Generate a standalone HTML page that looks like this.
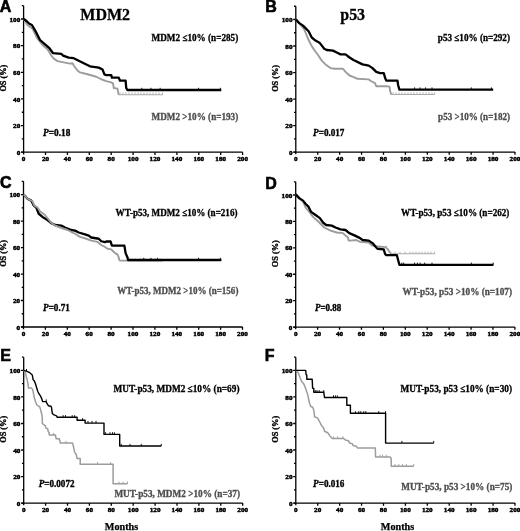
<!DOCTYPE html>
<html><head><meta charset="utf-8"><style>
html,body{margin:0;padding:0;background:#fff;}
body{color:#000;width:520px;height:531px;overflow:hidden;}
svg{display:block;filter:blur(0.4px);}
.tk{font-family:"Liberation Serif", serif;font-weight:bold;font-size:6.7px;fill:#000;stroke:#000;stroke-width:0.45px;}
.os{font-family:"Liberation Serif", serif;font-weight:bold;font-size:8.3px;fill:#000;stroke:#000;stroke-width:0.35px;}
.pl{font-family:"Liberation Sans", sans-serif;font-weight:bold;font-size:16px;fill:#000;stroke:#000;stroke-width:0.6px;}
.ti{font-family:"Liberation Serif", serif;font-weight:bold;font-size:17.6px;fill:#000;stroke:#000;stroke-width:0.3px;}
.lg{font-family:"Liberation Serif", serif;font-weight:bold;font-size:9.8px;fill:#000;stroke:currentColor;stroke-width:0.3px;}
.pv{font-family:"Liberation Serif", serif;font-weight:bold;font-size:10px;fill:#000;stroke:#000;stroke-width:0.35px;}
.mo{font-family:"Liberation Serif", serif;font-weight:bold;font-size:10.2px;fill:#000;stroke:#000;stroke-width:0.25px;}
</style></head><body>
<svg width="520" height="531" viewBox="0 0 520 531">
<rect width="520" height="531" fill="#fff"/>
<path d="M23.60 154.40V5.68M21.40 152.20H242.60" stroke="#000" stroke-width="1.3" fill="none"/>
<path d="M23.60 152.20h-2.6M23.60 138.88h-1.8M23.60 125.56h-2.6M23.60 112.24h-1.8M23.60 98.92h-2.6M23.60 85.60h-1.8M23.60 72.28h-2.6M23.60 58.96h-1.8M23.60 45.64h-2.6M23.60 32.32h-1.8M23.60 19.00h-2.6M23.60 5.68h-1.8M45.50 152.20v2.7M67.40 152.20v2.7M89.30 152.20v2.7M111.20 152.20v2.7M133.10 152.20v2.7M155.00 152.20v2.7M176.90 152.20v2.7M198.80 152.20v2.7M220.70 152.20v2.7M242.60 152.20v2.7" stroke="#000" stroke-width="1.3" fill="none"/>
<text x="20.30" y="154.80" text-anchor="end" class="tk" textLength="3.60" lengthAdjust="spacingAndGlyphs">0</text>
<text x="20.30" y="128.16" text-anchor="end" class="tk" textLength="7.20" lengthAdjust="spacingAndGlyphs">20</text>
<text x="20.30" y="101.52" text-anchor="end" class="tk" textLength="7.20" lengthAdjust="spacingAndGlyphs">40</text>
<text x="20.30" y="74.88" text-anchor="end" class="tk" textLength="7.20" lengthAdjust="spacingAndGlyphs">60</text>
<text x="20.30" y="48.24" text-anchor="end" class="tk" textLength="7.20" lengthAdjust="spacingAndGlyphs">80</text>
<text x="20.30" y="21.60" text-anchor="end" class="tk" textLength="10.80" lengthAdjust="spacingAndGlyphs">100</text>
<text x="23.60" y="161.10" text-anchor="middle" class="tk" textLength="3.60" lengthAdjust="spacingAndGlyphs">0</text>
<text x="45.50" y="161.10" text-anchor="middle" class="tk" textLength="7.20" lengthAdjust="spacingAndGlyphs">20</text>
<text x="67.40" y="161.10" text-anchor="middle" class="tk" textLength="7.20" lengthAdjust="spacingAndGlyphs">40</text>
<text x="89.30" y="161.10" text-anchor="middle" class="tk" textLength="7.20" lengthAdjust="spacingAndGlyphs">60</text>
<text x="111.20" y="161.10" text-anchor="middle" class="tk" textLength="7.20" lengthAdjust="spacingAndGlyphs">80</text>
<text x="133.10" y="161.10" text-anchor="middle" class="tk" textLength="10.80" lengthAdjust="spacingAndGlyphs">100</text>
<text x="155.00" y="161.10" text-anchor="middle" class="tk" textLength="10.80" lengthAdjust="spacingAndGlyphs">120</text>
<text x="176.90" y="161.10" text-anchor="middle" class="tk" textLength="10.80" lengthAdjust="spacingAndGlyphs">140</text>
<text x="198.80" y="161.10" text-anchor="middle" class="tk" textLength="10.80" lengthAdjust="spacingAndGlyphs">160</text>
<text x="220.70" y="161.10" text-anchor="middle" class="tk" textLength="10.80" lengthAdjust="spacingAndGlyphs">180</text>
<text x="242.60" y="161.10" text-anchor="middle" class="tk" textLength="10.80" lengthAdjust="spacingAndGlyphs">200</text>
<text transform="translate(6.10 78.14) rotate(-90)" text-anchor="middle" class="os">OS (%)</text>
<path d="M23.75 18.90 L27.50 25.00 L32.50 28.75 L37.50 38.75 L42.50 45.00 L47.50 49.25 L51.25 55.50 L53.75 58.60 L57.50 61.10 L63.75 62.40 L70.00 63.60 L72.50 63.30 L73.75 65.50 L77.50 70.50 L80.00 72.40 L87.50 74.25 L96.25 76.75 L101.25 79.25 L106.25 81.10 L111.25 82.40 L113.10 83.60 L113.75 88.00 L117.50 88.60 L118.10 91.75 L118.75 94.70" stroke="#9c9c9c" stroke-width="1.9" fill="none" stroke-linejoin="round"/>
<path d="M118.25 94.70H163.00" stroke="#aaaaaa" stroke-width="1.1" fill="none"/>
<path d="M120.00 94.70v-2.2M123.00 94.70v-2.2M126.00 94.70v-2.2M129.00 94.70v-2.2M132.00 94.70v-2.2M135.00 94.70v-2.2M138.00 94.70v-2.2M141.00 94.70v-2.2M144.00 94.70v-2.2M147.00 94.70v-2.2M150.00 94.70v-2.2M153.00 94.70v-2.2M156.00 94.70v-2.2M159.00 94.70v-2.2M162.50 94.70v-2.2" stroke="#aaaaaa" stroke-width="0.9" fill="none"/>
<path d="M23.75 18.90 L26.50 21.00 L29.40 23.75 L31.90 25.00 L34.00 28.50 L36.25 32.50 L40.00 40.00 L45.00 44.40 L49.40 48.20 L53.10 53.20 L61.25 53.80 L63.10 55.70 L68.75 57.60 L73.75 58.20 L78.75 60.70 L83.75 63.20 L90.00 66.30 L98.75 67.60 L102.50 69.45 L104.40 74.45 L106.25 75.10 L111.25 75.10 L111.90 77.60 L118.75 77.60 L120.00 80.70 L125.60 80.70 L126.25 88.20 L127.50 90.00 L221.30 90.00" stroke="#000" stroke-width="2.3" fill="none" stroke-linejoin="round"/>
<path d="M141.80 90.00v-2.2M151.00 90.00v-2.2M160.10 90.00v-2.2M198.50 90.00v-2.2M220.40 90.00v-2.2" stroke="#000" stroke-width="0.9" fill="none"/>
<path d="M295.80 154.30V6.24M293.60 152.10H515.00" stroke="#000" stroke-width="1.3" fill="none"/>
<path d="M295.80 152.10h-2.6M295.80 138.84h-1.8M295.80 125.58h-2.6M295.80 112.32h-1.8M295.80 99.06h-2.6M295.80 85.80h-1.8M295.80 72.54h-2.6M295.80 59.28h-1.8M295.80 46.02h-2.6M295.80 32.76h-1.8M295.80 19.50h-2.6M295.80 6.24h-1.8M317.72 152.10v2.7M339.64 152.10v2.7M361.56 152.10v2.7M383.48 152.10v2.7M405.40 152.10v2.7M427.32 152.10v2.7M449.24 152.10v2.7M471.16 152.10v2.7M493.08 152.10v2.7M515.00 152.10v2.7" stroke="#000" stroke-width="1.3" fill="none"/>
<text x="292.50" y="154.70" text-anchor="end" class="tk" textLength="3.60" lengthAdjust="spacingAndGlyphs">0</text>
<text x="292.50" y="128.18" text-anchor="end" class="tk" textLength="7.20" lengthAdjust="spacingAndGlyphs">20</text>
<text x="292.50" y="101.66" text-anchor="end" class="tk" textLength="7.20" lengthAdjust="spacingAndGlyphs">40</text>
<text x="292.50" y="75.14" text-anchor="end" class="tk" textLength="7.20" lengthAdjust="spacingAndGlyphs">60</text>
<text x="292.50" y="48.62" text-anchor="end" class="tk" textLength="7.20" lengthAdjust="spacingAndGlyphs">80</text>
<text x="292.50" y="22.10" text-anchor="end" class="tk" textLength="10.80" lengthAdjust="spacingAndGlyphs">100</text>
<text x="295.80" y="161.00" text-anchor="middle" class="tk" textLength="3.60" lengthAdjust="spacingAndGlyphs">0</text>
<text x="317.72" y="161.00" text-anchor="middle" class="tk" textLength="7.20" lengthAdjust="spacingAndGlyphs">20</text>
<text x="339.64" y="161.00" text-anchor="middle" class="tk" textLength="7.20" lengthAdjust="spacingAndGlyphs">40</text>
<text x="361.56" y="161.00" text-anchor="middle" class="tk" textLength="7.20" lengthAdjust="spacingAndGlyphs">60</text>
<text x="383.48" y="161.00" text-anchor="middle" class="tk" textLength="7.20" lengthAdjust="spacingAndGlyphs">80</text>
<text x="405.40" y="161.00" text-anchor="middle" class="tk" textLength="10.80" lengthAdjust="spacingAndGlyphs">100</text>
<text x="427.32" y="161.00" text-anchor="middle" class="tk" textLength="10.80" lengthAdjust="spacingAndGlyphs">120</text>
<text x="449.24" y="161.00" text-anchor="middle" class="tk" textLength="10.80" lengthAdjust="spacingAndGlyphs">140</text>
<text x="471.16" y="161.00" text-anchor="middle" class="tk" textLength="10.80" lengthAdjust="spacingAndGlyphs">160</text>
<text x="493.08" y="161.00" text-anchor="middle" class="tk" textLength="10.80" lengthAdjust="spacingAndGlyphs">180</text>
<text x="515.00" y="161.00" text-anchor="middle" class="tk" textLength="10.80" lengthAdjust="spacingAndGlyphs">200</text>
<text transform="translate(278.30 78.37) rotate(-90)" text-anchor="middle" class="os">OS (%)</text>
<path d="M295.75 19.40 L300.50 25.00 L304.25 29.40 L305.50 32.50 L308.00 38.75 L311.10 45.00 L314.25 50.00 L318.00 55.00 L321.75 60.60 L325.50 64.40 L330.50 68.10 L334.25 68.75 L343.00 68.75 L345.50 71.90 L349.50 75.50 L353.00 76.90 L357.50 78.75 L368.75 79.40 L371.25 81.25 L375.00 83.10 L376.25 86.25 L386.25 86.25 L389.50 86.60 L390.00 90.40 L391.20 94.50" stroke="#9c9c9c" stroke-width="1.9" fill="none" stroke-linejoin="round"/>
<path d="M390.70 94.50H434.70" stroke="#aaaaaa" stroke-width="1.1" fill="none"/>
<path d="M393.00 94.50v-2.2M396.00 94.50v-2.2M399.00 94.50v-2.2M402.00 94.50v-2.2M405.00 94.50v-2.2M408.00 94.50v-2.2M411.00 94.50v-2.2M414.00 94.50v-2.2M417.00 94.50v-2.2M420.00 94.50v-2.2M423.00 94.50v-2.2M426.00 94.50v-2.2M429.00 94.50v-2.2M432.00 94.50v-2.2M434.70 94.50v-2.2" stroke="#aaaaaa" stroke-width="0.9" fill="none"/>
<path d="M295.75 19.40 L299.25 23.10 L303.00 25.60 L305.50 28.10 L308.60 31.25 L311.75 37.50 L315.50 40.60 L319.90 43.10 L324.25 48.75 L326.75 50.00 L333.00 50.60 L336.75 52.50 L340.50 54.40 L345.50 54.40 L349.60 57.50 L353.50 60.00 L362.50 64.40 L368.75 65.60 L372.50 68.10 L376.25 71.90 L380.00 73.10 L383.75 73.10 L385.00 77.50 L386.25 80.60 L397.50 80.60 L398.10 85.00 L399.40 89.60 L493.20 89.60" stroke="#000" stroke-width="2.3" fill="none" stroke-linejoin="round"/>
<path d="M414.60 89.60v-2.2M420.10 89.60v-2.2M425.60 89.60v-2.2M432.00 89.60v-2.2M471.30 89.60v-2.2M491.40 89.60v-2.2" stroke="#000" stroke-width="0.9" fill="none"/>
<path d="M23.50 329.20V181.36M21.30 327.00H242.50" stroke="#000" stroke-width="1.3" fill="none"/>
<path d="M23.50 327.00h-2.6M23.50 313.76h-1.8M23.50 300.52h-2.6M23.50 287.28h-1.8M23.50 274.04h-2.6M23.50 260.80h-1.8M23.50 247.56h-2.6M23.50 234.32h-1.8M23.50 221.08h-2.6M23.50 207.84h-1.8M23.50 194.60h-2.6M23.50 181.36h-1.8M45.40 327.00v2.7M67.30 327.00v2.7M89.20 327.00v2.7M111.10 327.00v2.7M133.00 327.00v2.7M154.90 327.00v2.7M176.80 327.00v2.7M198.70 327.00v2.7M220.60 327.00v2.7M242.50 327.00v2.7" stroke="#000" stroke-width="1.3" fill="none"/>
<text x="20.20" y="329.60" text-anchor="end" class="tk" textLength="3.60" lengthAdjust="spacingAndGlyphs">0</text>
<text x="20.20" y="303.12" text-anchor="end" class="tk" textLength="7.20" lengthAdjust="spacingAndGlyphs">20</text>
<text x="20.20" y="276.64" text-anchor="end" class="tk" textLength="7.20" lengthAdjust="spacingAndGlyphs">40</text>
<text x="20.20" y="250.16" text-anchor="end" class="tk" textLength="7.20" lengthAdjust="spacingAndGlyphs">60</text>
<text x="20.20" y="223.68" text-anchor="end" class="tk" textLength="7.20" lengthAdjust="spacingAndGlyphs">80</text>
<text x="20.20" y="197.20" text-anchor="end" class="tk" textLength="10.80" lengthAdjust="spacingAndGlyphs">100</text>
<text x="23.50" y="335.90" text-anchor="middle" class="tk" textLength="3.60" lengthAdjust="spacingAndGlyphs">0</text>
<text x="45.40" y="335.90" text-anchor="middle" class="tk" textLength="7.20" lengthAdjust="spacingAndGlyphs">20</text>
<text x="67.30" y="335.90" text-anchor="middle" class="tk" textLength="7.20" lengthAdjust="spacingAndGlyphs">40</text>
<text x="89.20" y="335.90" text-anchor="middle" class="tk" textLength="7.20" lengthAdjust="spacingAndGlyphs">60</text>
<text x="111.10" y="335.90" text-anchor="middle" class="tk" textLength="7.20" lengthAdjust="spacingAndGlyphs">80</text>
<text x="133.00" y="335.90" text-anchor="middle" class="tk" textLength="10.80" lengthAdjust="spacingAndGlyphs">100</text>
<text x="154.90" y="335.90" text-anchor="middle" class="tk" textLength="10.80" lengthAdjust="spacingAndGlyphs">120</text>
<text x="176.80" y="335.90" text-anchor="middle" class="tk" textLength="10.80" lengthAdjust="spacingAndGlyphs">140</text>
<text x="198.70" y="335.90" text-anchor="middle" class="tk" textLength="10.80" lengthAdjust="spacingAndGlyphs">160</text>
<text x="220.60" y="335.90" text-anchor="middle" class="tk" textLength="10.80" lengthAdjust="spacingAndGlyphs">180</text>
<text x="242.50" y="335.90" text-anchor="middle" class="tk" textLength="10.80" lengthAdjust="spacingAndGlyphs">200</text>
<text transform="translate(6.00 253.39) rotate(-90)" text-anchor="middle" class="os">OS (%)</text>
<path d="M119.40 260.60H162.90" stroke="#9c9c9c" stroke-width="1.9" fill="none"/>
<path d="M130.00 260.60v-2.2M135.00 260.60v-2.2M140.00 260.60v-2.2M145.00 260.60v-2.2M150.00 260.60v-2.2M155.00 260.60v-2.2M160.00 260.60v-2.2" stroke="#9c9c9c" stroke-width="0.9" fill="none"/>
<path d="M23.75 194.40 L27.50 198.75 L31.25 200.60 L33.75 205.60 L36.25 207.50 L38.75 213.75 L42.50 216.90 L47.50 220.00 L51.25 223.10 L55.00 225.00 L61.25 225.60 L65.00 227.50 L71.25 230.00 L75.00 230.60 L78.75 232.50 L85.00 234.40 L88.75 235.60 L91.25 237.50 L98.75 238.75 L101.25 241.25 L105.00 242.20 L106.25 241.50 L110.60 241.50 L111.90 245.60 L124.40 245.60 L125.60 253.10 L127.50 257.50 L128.10 260.00 L221.40 260.00" stroke="#000" stroke-width="2.3" fill="none" stroke-linejoin="round"/>
<path d="M143.70 260.00v-2.2M151.00 260.00v-2.2M157.40 260.00v-2.2M198.50 260.00v-2.2M220.40 260.00v-2.2" stroke="#000" stroke-width="0.9" fill="none"/>
<path d="M23.75 194.40 L27.50 198.75 L32.50 201.25 L34.40 205.60 L37.50 207.50 L40.00 211.25 L45.00 215.00 L50.00 221.25 L53.75 225.00 L60.00 227.50 L67.50 230.00 L71.25 231.90 L75.00 233.75 L80.00 236.90 L86.25 238.75 L91.25 240.60 L97.50 241.90 L101.25 245.00 L105.00 246.90 L107.50 248.75 L111.25 249.40 L113.10 251.25 L115.00 253.10 L117.50 254.40 L118.75 257.50 L119.40 260.60" stroke="#9c9c9c" stroke-width="1.9" fill="none" stroke-linejoin="round"/>
<path d="M295.70 329.30V181.79M293.50 327.10H514.90" stroke="#000" stroke-width="1.3" fill="none"/>
<path d="M295.70 327.10h-2.6M295.70 313.89h-1.8M295.70 300.68h-2.6M295.70 287.47h-1.8M295.70 274.26h-2.6M295.70 261.05h-1.8M295.70 247.84h-2.6M295.70 234.63h-1.8M295.70 221.42h-2.6M295.70 208.21h-1.8M295.70 195.00h-2.6M295.70 181.79h-1.8M317.62 327.10v2.7M339.54 327.10v2.7M361.46 327.10v2.7M383.38 327.10v2.7M405.30 327.10v2.7M427.22 327.10v2.7M449.14 327.10v2.7M471.06 327.10v2.7M492.98 327.10v2.7M514.90 327.10v2.7" stroke="#000" stroke-width="1.3" fill="none"/>
<text x="292.40" y="329.70" text-anchor="end" class="tk" textLength="3.60" lengthAdjust="spacingAndGlyphs">0</text>
<text x="292.40" y="303.28" text-anchor="end" class="tk" textLength="7.20" lengthAdjust="spacingAndGlyphs">20</text>
<text x="292.40" y="276.86" text-anchor="end" class="tk" textLength="7.20" lengthAdjust="spacingAndGlyphs">40</text>
<text x="292.40" y="250.44" text-anchor="end" class="tk" textLength="7.20" lengthAdjust="spacingAndGlyphs">60</text>
<text x="292.40" y="224.02" text-anchor="end" class="tk" textLength="7.20" lengthAdjust="spacingAndGlyphs">80</text>
<text x="292.40" y="197.60" text-anchor="end" class="tk" textLength="10.80" lengthAdjust="spacingAndGlyphs">100</text>
<text x="295.70" y="336.00" text-anchor="middle" class="tk" textLength="3.60" lengthAdjust="spacingAndGlyphs">0</text>
<text x="317.62" y="336.00" text-anchor="middle" class="tk" textLength="7.20" lengthAdjust="spacingAndGlyphs">20</text>
<text x="339.54" y="336.00" text-anchor="middle" class="tk" textLength="7.20" lengthAdjust="spacingAndGlyphs">40</text>
<text x="361.46" y="336.00" text-anchor="middle" class="tk" textLength="7.20" lengthAdjust="spacingAndGlyphs">60</text>
<text x="383.38" y="336.00" text-anchor="middle" class="tk" textLength="7.20" lengthAdjust="spacingAndGlyphs">80</text>
<text x="405.30" y="336.00" text-anchor="middle" class="tk" textLength="10.80" lengthAdjust="spacingAndGlyphs">100</text>
<text x="427.22" y="336.00" text-anchor="middle" class="tk" textLength="10.80" lengthAdjust="spacingAndGlyphs">120</text>
<text x="449.14" y="336.00" text-anchor="middle" class="tk" textLength="10.80" lengthAdjust="spacingAndGlyphs">140</text>
<text x="471.06" y="336.00" text-anchor="middle" class="tk" textLength="10.80" lengthAdjust="spacingAndGlyphs">160</text>
<text x="492.98" y="336.00" text-anchor="middle" class="tk" textLength="10.80" lengthAdjust="spacingAndGlyphs">180</text>
<text x="514.90" y="336.00" text-anchor="middle" class="tk" textLength="10.80" lengthAdjust="spacingAndGlyphs">200</text>
<text transform="translate(278.20 253.65) rotate(-90)" text-anchor="middle" class="os">OS (%)</text>
<path d="M295.75 194.40 L299.25 198.75 L303.00 201.25 L305.50 207.50 L309.25 211.90 L313.00 216.90 L318.00 221.25 L321.75 225.00 L324.25 227.50 L330.50 230.60 L336.75 232.50 L343.00 233.10 L344.90 235.00 L348.00 237.50 L348.60 240.60 L350.00 240.60 L356.25 240.00 L360.00 241.90 L368.75 242.50 L372.00 245.50 L376.25 246.30 L385.60 247.10 L388.00 249.50 L389.50 252.00 L391.30 253.80" stroke="#9c9c9c" stroke-width="1.9" fill="none" stroke-linejoin="round"/>
<path d="M390.80 253.80H434.70" stroke="#aaaaaa" stroke-width="1.1" fill="none"/>
<path d="M386.25 247.75v-2.2M395.00 253.80v-2.2M400.00 253.80v-2.2M405.00 253.80v-2.2M410.00 253.80v-2.2M413.00 253.80v-2.2M416.00 253.80v-2.2M419.00 253.80v-2.2M422.00 253.80v-2.2M425.00 253.80v-2.2M428.00 253.80v-2.2M431.00 253.80v-2.2M434.70 253.80v-2.2" stroke="#aaaaaa" stroke-width="0.9" fill="none"/>
<path d="M295.75 194.40 L299.25 198.10 L303.00 200.60 L305.50 203.75 L308.60 206.90 L311.10 211.90 L315.50 215.00 L319.90 218.10 L323.00 222.50 L326.10 225.00 L331.75 225.60 L335.50 227.50 L340.50 229.40 L345.50 230.00 L349.25 233.10 L355.00 235.60 L360.00 238.10 L362.50 240.00 L368.75 240.60 L372.50 243.10 L376.25 247.50 L377.50 248.75 L383.75 249.40 L385.00 253.75 L386.25 255.20 L396.90 255.20 L398.10 260.00 L399.40 264.80 L493.40 264.80" stroke="#000" stroke-width="2.3" fill="none" stroke-linejoin="round"/>
<path d="M401.80 264.80v-2.2M403.70 264.80v-2.2M414.60 264.80v-2.2M417.40 264.80v-2.2M420.10 264.80v-2.2M424.70 264.80v-2.2M432.00 264.80v-2.2M471.30 264.80v-2.2M493.20 264.80v-2.2" stroke="#000" stroke-width="0.9" fill="none"/>
<path d="M23.70 505.30V357.13M21.50 503.10H242.70" stroke="#000" stroke-width="1.3" fill="none"/>
<path d="M23.70 503.10h-2.6M23.70 489.83h-1.8M23.70 476.56h-2.6M23.70 463.29h-1.8M23.70 450.02h-2.6M23.70 436.75h-1.8M23.70 423.48h-2.6M23.70 410.21h-1.8M23.70 396.94h-2.6M23.70 383.67h-1.8M23.70 370.40h-2.6M23.70 357.13h-1.8M45.60 503.10v2.7M67.50 503.10v2.7M89.40 503.10v2.7M111.30 503.10v2.7M133.20 503.10v2.7M155.10 503.10v2.7M177.00 503.10v2.7M198.90 503.10v2.7M220.80 503.10v2.7M242.70 503.10v2.7" stroke="#000" stroke-width="1.3" fill="none"/>
<text x="20.40" y="505.70" text-anchor="end" class="tk" textLength="3.60" lengthAdjust="spacingAndGlyphs">0</text>
<text x="20.40" y="479.16" text-anchor="end" class="tk" textLength="7.20" lengthAdjust="spacingAndGlyphs">20</text>
<text x="20.40" y="452.62" text-anchor="end" class="tk" textLength="7.20" lengthAdjust="spacingAndGlyphs">40</text>
<text x="20.40" y="426.08" text-anchor="end" class="tk" textLength="7.20" lengthAdjust="spacingAndGlyphs">60</text>
<text x="20.40" y="399.54" text-anchor="end" class="tk" textLength="7.20" lengthAdjust="spacingAndGlyphs">80</text>
<text x="20.40" y="373.00" text-anchor="end" class="tk" textLength="10.80" lengthAdjust="spacingAndGlyphs">100</text>
<text x="23.70" y="512.00" text-anchor="middle" class="tk" textLength="3.60" lengthAdjust="spacingAndGlyphs">0</text>
<text x="45.60" y="512.00" text-anchor="middle" class="tk" textLength="7.20" lengthAdjust="spacingAndGlyphs">20</text>
<text x="67.50" y="512.00" text-anchor="middle" class="tk" textLength="7.20" lengthAdjust="spacingAndGlyphs">40</text>
<text x="89.40" y="512.00" text-anchor="middle" class="tk" textLength="7.20" lengthAdjust="spacingAndGlyphs">60</text>
<text x="111.30" y="512.00" text-anchor="middle" class="tk" textLength="7.20" lengthAdjust="spacingAndGlyphs">80</text>
<text x="133.20" y="512.00" text-anchor="middle" class="tk" textLength="10.80" lengthAdjust="spacingAndGlyphs">100</text>
<text x="155.10" y="512.00" text-anchor="middle" class="tk" textLength="10.80" lengthAdjust="spacingAndGlyphs">120</text>
<text x="177.00" y="512.00" text-anchor="middle" class="tk" textLength="10.80" lengthAdjust="spacingAndGlyphs">140</text>
<text x="198.90" y="512.00" text-anchor="middle" class="tk" textLength="10.80" lengthAdjust="spacingAndGlyphs">160</text>
<text x="220.80" y="512.00" text-anchor="middle" class="tk" textLength="10.80" lengthAdjust="spacingAndGlyphs">180</text>
<text x="242.70" y="512.00" text-anchor="middle" class="tk" textLength="10.80" lengthAdjust="spacingAndGlyphs">200</text>
<text transform="translate(6.20 429.32) rotate(-90)" text-anchor="middle" class="os">OS (%)</text>
<path d="M23.85 370.40 L25.40 372.70 L26.20 376.50 L27.30 380.40 L28.10 385.00 L28.50 388.10 L31.50 388.10 L32.70 389.60 L33.50 393.50 L34.20 397.30 L35.40 401.20 L36.90 405.00 L38.50 406.20 L39.60 406.50 L40.80 410.40 L41.90 415.00 L42.30 418.10 L42.30 423.50 L43.80 424.60 L45.40 425.80 L45.80 428.10 L47.70 428.80 L48.10 431.20 L49.20 432.70 L49.20 435.00 L55.40 435.00 L56.20 438.80 L59.20 438.80 L60.00 441.20 L60.40 443.10 L72.50 443.10 L73.10 445.00 L73.80 448.10 L74.60 451.90 L75.40 453.50 L76.50 455.00 L76.90 458.50 L80.20 458.50 L80.20 464.30 L113.10 464.30 L113.10 483.75 L127.50 483.75" stroke="#9c9c9c" stroke-width="1.5" fill="none" stroke-linejoin="round"/>
<path d="M53.50 435.00v-2.2M66.00 443.10v-2.2M97.50 464.30v-2.2M110.60 464.30v-2.2M119.00 483.75v-2.2M123.00 483.75v-2.2M127.50 483.75v-2.2" stroke="#9c9c9c" stroke-width="0.9" fill="none"/>
<path d="M23.85 370.40 L26.90 371.30 L29.20 372.30 L31.50 374.20 L32.30 375.00 L33.10 379.60 L34.20 380.80 L35.40 383.50 L36.50 387.30 L37.70 391.20 L38.80 393.50 L40.40 395.80 L41.50 398.10 L42.30 400.40 L42.70 401.60 L46.20 401.60 L46.50 402.70 L48.50 405.80 L50.80 406.20 L51.50 407.30 L52.30 413.50 L53.50 414.60 L55.40 415.40 L56.50 415.80 L57.30 417.30 L77.10 417.30 L77.10 420.30 L85.10 420.30 L85.10 423.10 L104.00 423.10 L104.00 434.40 L119.70 434.40 L119.70 446.00 L161.25 446.00" stroke="#000" stroke-width="1.4" fill="none" stroke-linejoin="round"/>
<path d="M26.50 371.18v-2.2M46.20 401.60v-2.2M63.10 417.30v-2.2M65.50 417.30v-2.2M72.20 417.30v-2.2M74.70 417.30v-2.2M82.60 420.30v-2.2M88.00 423.10v-2.2M92.00 423.10v-2.2M96.00 423.10v-2.2M105.60 434.40v-2.2M110.00 434.40v-2.2M112.50 434.40v-2.2M114.40 434.40v-2.2M121.25 446.00v-2.2M130.00 446.00v-2.2M141.25 446.00v-2.2M161.25 446.00v-2.2" stroke="#000" stroke-width="0.9" fill="none"/>
<path d="M295.80 505.30V357.13M293.60 503.10H515.00" stroke="#000" stroke-width="1.3" fill="none"/>
<path d="M295.80 503.10h-2.6M295.80 489.83h-1.8M295.80 476.56h-2.6M295.80 463.29h-1.8M295.80 450.02h-2.6M295.80 436.75h-1.8M295.80 423.48h-2.6M295.80 410.21h-1.8M295.80 396.94h-2.6M295.80 383.67h-1.8M295.80 370.40h-2.6M295.80 357.13h-1.8M317.72 503.10v2.7M339.64 503.10v2.7M361.56 503.10v2.7M383.48 503.10v2.7M405.40 503.10v2.7M427.32 503.10v2.7M449.24 503.10v2.7M471.16 503.10v2.7M493.08 503.10v2.7M515.00 503.10v2.7" stroke="#000" stroke-width="1.3" fill="none"/>
<text x="292.50" y="505.70" text-anchor="end" class="tk" textLength="3.60" lengthAdjust="spacingAndGlyphs">0</text>
<text x="292.50" y="479.16" text-anchor="end" class="tk" textLength="7.20" lengthAdjust="spacingAndGlyphs">20</text>
<text x="292.50" y="452.62" text-anchor="end" class="tk" textLength="7.20" lengthAdjust="spacingAndGlyphs">40</text>
<text x="292.50" y="426.08" text-anchor="end" class="tk" textLength="7.20" lengthAdjust="spacingAndGlyphs">60</text>
<text x="292.50" y="399.54" text-anchor="end" class="tk" textLength="7.20" lengthAdjust="spacingAndGlyphs">80</text>
<text x="292.50" y="373.00" text-anchor="end" class="tk" textLength="10.80" lengthAdjust="spacingAndGlyphs">100</text>
<text x="295.80" y="512.00" text-anchor="middle" class="tk" textLength="3.60" lengthAdjust="spacingAndGlyphs">0</text>
<text x="317.72" y="512.00" text-anchor="middle" class="tk" textLength="7.20" lengthAdjust="spacingAndGlyphs">20</text>
<text x="339.64" y="512.00" text-anchor="middle" class="tk" textLength="7.20" lengthAdjust="spacingAndGlyphs">40</text>
<text x="361.56" y="512.00" text-anchor="middle" class="tk" textLength="7.20" lengthAdjust="spacingAndGlyphs">60</text>
<text x="383.48" y="512.00" text-anchor="middle" class="tk" textLength="7.20" lengthAdjust="spacingAndGlyphs">80</text>
<text x="405.40" y="512.00" text-anchor="middle" class="tk" textLength="10.80" lengthAdjust="spacingAndGlyphs">100</text>
<text x="427.32" y="512.00" text-anchor="middle" class="tk" textLength="10.80" lengthAdjust="spacingAndGlyphs">120</text>
<text x="449.24" y="512.00" text-anchor="middle" class="tk" textLength="10.80" lengthAdjust="spacingAndGlyphs">140</text>
<text x="471.16" y="512.00" text-anchor="middle" class="tk" textLength="10.80" lengthAdjust="spacingAndGlyphs">160</text>
<text x="493.08" y="512.00" text-anchor="middle" class="tk" textLength="10.80" lengthAdjust="spacingAndGlyphs">180</text>
<text x="515.00" y="512.00" text-anchor="middle" class="tk" textLength="10.80" lengthAdjust="spacingAndGlyphs">200</text>
<text transform="translate(278.30 429.32) rotate(-90)" text-anchor="middle" class="os">OS (%)</text>
<path d="M295.90 370.40 L296.80 370.80 L298.40 373.10 L299.90 377.30 L301.50 381.20 L303.40 383.50 L304.50 385.40 L305.70 388.80 L306.80 391.90 L308.00 395.80 L308.60 398.80 L309.60 403.50 L310.80 406.50 L312.70 407.30 L313.50 409.20 L314.20 412.70 L314.60 416.90 L317.30 417.70 L318.50 419.60 L320.00 422.50 L321.50 425.40 L323.50 427.70 L324.60 431.20 L327.70 432.70 L330.00 436.20 L332.30 438.50 L343.80 438.50 L345.40 440.00 L348.50 440.80 L349.60 443.10 L352.30 443.80 L353.10 445.40 L356.20 446.20 L357.70 448.10 L375.30 448.10 L375.60 456.90 L390.00 456.90 L391.25 458.75 L391.25 466.25 L413.75 466.25" stroke="#9c9c9c" stroke-width="1.5" fill="none" stroke-linejoin="round"/>
<path d="M333.50 438.50v-2.2M337.70 438.50v-2.2M343.00 438.50v-2.2M380.00 456.90v-2.2M382.50 456.90v-2.2M386.25 456.90v-2.2M395.00 466.25v-2.2M398.75 466.25v-2.2M402.50 466.25v-2.2M406.25 466.25v-2.2M413.75 466.25v-2.2" stroke="#9c9c9c" stroke-width="0.9" fill="none"/>
<path d="M295.90 370.40 L305.70 370.40 L306.10 374.60 L306.80 375.00 L306.80 379.20 L312.20 379.20 L312.60 388.10 L313.80 388.50 L313.80 392.30 L323.80 392.30 L324.50 397.50 L346.80 397.50 L346.80 405.20 L350.40 405.20 L350.40 413.30 L385.60 413.30 L385.60 443.10 L433.75 443.10" stroke="#000" stroke-width="1.4" fill="none" stroke-linejoin="round"/>
<path d="M315.30 392.30v-2.2M317.00 392.30v-2.2M319.20 392.30v-2.2M323.80 392.30v-2.2M333.50 397.50v-2.2M335.40 397.50v-2.2M337.30 397.50v-2.2M355.40 413.30v-2.2M358.80 413.30v-2.2M360.80 413.30v-2.2M363.80 413.30v-2.2M365.80 413.30v-2.2M378.75 413.30v-2.2M385.60 413.30v-2.2M401.90 443.10v-2.2M433.75 443.10v-2.2" stroke="#000" stroke-width="0.9" fill="none"/>
<text x="-0.3" y="11.6" class="pl" text-anchor="start">A</text>
<text x="265.2" y="11.8" class="pl" text-anchor="start">B</text>
<text x="0" y="188.3" class="pl" text-anchor="start">C</text>
<text x="265.2" y="188.5" class="pl" text-anchor="start">D</text>
<text x="0.3" y="360.5" class="pl" text-anchor="start">E</text>
<text x="264.8" y="360.5" class="pl" text-anchor="start">F</text>
<text x="80.3" y="20" class="ti" text-anchor="start" textLength="49.8" lengthAdjust="spacingAndGlyphs">MDM2</text>
<text x="340.3" y="20" class="ti" text-anchor="start" textLength="24.8" lengthAdjust="spacingAndGlyphs">p53</text>
<text x="151.6" y="41.2" class="lg" text-anchor="start" textLength="86.6" lengthAdjust="spacingAndGlyphs">MDM2 &#8804;10% (n=285)</text>
<text x="151.6" y="119.8" class="lg" text-anchor="start" style="fill:#4d4d4d;color:#4d4d4d" textLength="86.6" lengthAdjust="spacingAndGlyphs">MDM2 &gt;10% (n=193)</text>
<text x="437.8" y="41.4" class="lg" text-anchor="start" textLength="72.2" lengthAdjust="spacingAndGlyphs">p53 &#8804;10% (n=292)</text>
<text x="438.1" y="119.9" class="lg" text-anchor="start" style="fill:#4d4d4d;color:#4d4d4d" textLength="71.9" lengthAdjust="spacingAndGlyphs">p53 &gt;10% (n=182)</text>
<text x="115.6" y="216" class="lg" text-anchor="start" textLength="121.9" lengthAdjust="spacingAndGlyphs">WT-p53, MDM2 &#8804;10% (n=216)</text>
<text x="117.2" y="294.4" class="lg" text-anchor="start" style="fill:#4d4d4d;color:#4d4d4d" textLength="121.2" lengthAdjust="spacingAndGlyphs">WT-p53, MDM2 &gt;10% (n=156)</text>
<text x="401" y="215.8" class="lg" text-anchor="start" textLength="108.4" lengthAdjust="spacingAndGlyphs">WT-p53, p53 &#8804;10% (n=262)</text>
<text x="402.5" y="295" class="lg" text-anchor="start" style="fill:#4d4d4d;color:#4d4d4d" textLength="109.5" lengthAdjust="spacingAndGlyphs">WT-p53, p53 &gt;10% (n=107)</text>
<text x="113.5" y="391.9" class="lg" text-anchor="start" textLength="126" lengthAdjust="spacingAndGlyphs">MUT-p53, MDM2 &#8804;10% (n=69)</text>
<text x="114.4" y="497.3" class="lg" text-anchor="start" style="fill:#4d4d4d;color:#4d4d4d" textLength="125.6" lengthAdjust="spacingAndGlyphs">MUT-p53, MDM2 &gt;10% (n=37)</text>
<text x="400.5" y="391.5" class="lg" text-anchor="start" textLength="111.5" lengthAdjust="spacingAndGlyphs">MUT-p53, p53 &#8804;10% (n=30)</text>
<text x="401.2" y="489.5" class="lg" text-anchor="start" style="fill:#4d4d4d;color:#4d4d4d" textLength="111.2" lengthAdjust="spacingAndGlyphs">MUT-p53, p53 &gt;10% (n=75)</text>
<text x="43.1" y="135.6" class="pv" textLength="27.2" lengthAdjust="spacingAndGlyphs"><tspan font-style="italic">P</tspan>=<tspan>0.18</tspan></text>
<text x="313.1" y="135.6" class="pv" textLength="31.3" lengthAdjust="spacingAndGlyphs"><tspan font-style="italic">P</tspan>=<tspan>0.017</tspan></text>
<text x="43.1" y="311.2" class="pv" textLength="26.7" lengthAdjust="spacingAndGlyphs"><tspan font-style="italic">P</tspan>=<tspan>0.71</tspan></text>
<text x="315" y="311.2" class="pv" textLength="26.3" lengthAdjust="spacingAndGlyphs"><tspan font-style="italic">P</tspan>=<tspan>0.88</tspan></text>
<text x="38.8" y="486.9" class="pv" textLength="35.7" lengthAdjust="spacingAndGlyphs"><tspan font-style="italic">P</tspan>=<tspan>0.0072</tspan></text>
<text x="313.1" y="486.9" class="pv" textLength="31.3" lengthAdjust="spacingAndGlyphs"><tspan font-style="italic">P</tspan>=<tspan>0.016</tspan></text>
<text x="121.5" y="530.3" class="mo" text-anchor="middle">Months</text>
<text x="397.5" y="530.3" class="mo" text-anchor="middle">Months</text>
</svg>
</body></html>
